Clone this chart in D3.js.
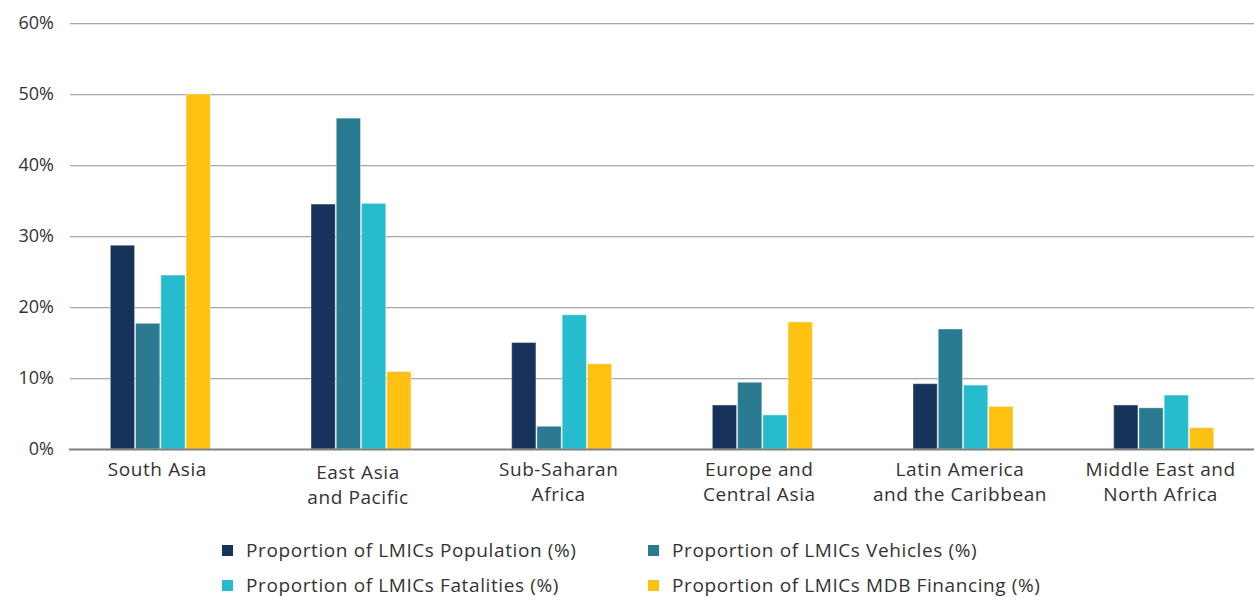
<!DOCTYPE html>
<html>
<head>
<meta charset="utf-8">
<script src="https://cdn.jsdelivr.net/npm/d3@7"></script>
<style>
  html, body { margin: 0; padding: 0; background: #fff; }
  svg text { font-family: "Open Sans", "Noto Sans", sans-serif; fill: #333; }
</style>
</head>
<body>
<svg id="chart" width="1254" height="597"></svg>
<script>
const regions = [
  ["South Asia"],
  ["East Asia", "and Pacific"],
  ["Sub-Saharan", "Africa"],
  ["Europe and", "Central Asia"],
  ["Latin America", "and the Caribbean"],
  ["Middle East and", "North Africa"]
];
const seriesNames = [
  "Proportion of LMICs Population (%)",
  "Proportion of LMICs Vehicles (%)",
  "Proportion of LMICs Fatalities (%)",
  "Proportion of LMICs MDB Financing (%)"
];
const population = [28.7, 34.5, 15.0, 6.2, 9.2, 6.2];
const vehicles   = [17.7, 46.6, 3.2, 9.4, 16.9, 5.8];
const fatalities = [24.5, 34.6, 18.9, 4.8, 9.0, 7.6];
const financing  = [50.0, 10.9, 12.0, 17.9, 6.0, 3.0];
const yTicks = [0, 10, 20, 30, 40, 50, 60];
const colors = ["#17335c", "#2a7a91", "#26bbcd", "#fcc111"];

const series = [population, vehicles, fatalities, financing];
const svg = d3.select("#chart");
const FONT = '"Open Sans", "Noto Sans", sans-serif';

const y = d3.scaleLinear().domain([0, 60]).range([449, 23]);
const x0 = d3.scaleBand().domain(d3.range(regions.length)).range([60, 1264]).padding(0);
const groupW = 101;
const x1 = d3.scaleBand().domain(d3.range(series.length))
  .range([x0.bandwidth() / 2 - groupW / 2, x0.bandwidth() / 2 + groupW / 2]).padding(0);

// gridlines
const grid = svg.append("g");
grid.selectAll("line.g").data(yTicks.filter(d => d > 0)).join("line")
  .attr("x1", 70).attr("x2", 1254)
  .attr("y1", d => Math.round(y(d)) + 0.5).attr("y2", d => Math.round(y(d)) + 0.5)
  .attr("stroke", "#a8a8a8").attr("stroke-width", 1);
grid.selectAll("line.g2").data(yTicks.filter(d => d > 0)).join("line")
  .attr("x1", 70).attr("x2", 1254)
  .attr("y1", d => Math.round(y(d)) + 1.5).attr("y2", d => Math.round(y(d)) + 1.5)
  .attr("stroke", "#e6e6e6").attr("stroke-width", 1);

// y labels
const yAxis = d3.axisLeft(y).tickValues(yTicks).tickFormat(d => d + "%").tickSize(0).tickPadding(0);
const ya = svg.append("g").attr("transform", "translate(54,0)").call(yAxis);
ya.select(".domain").remove();
ya.selectAll("text").attr("font-size", 18).attr("fill", "#333").style("font-family", FONT);

// bars
const groups = svg.append("g").selectAll("g").data(regions).join("g")
  .attr("transform", (d, i) => `translate(${x0(i)},0)`);
groups.selectAll("rect").data((d, i) => series.map((s, k) => ({ k, v: s[i] }))).join("rect")
  .attr("x", d => x1(d.k) + 0.5)
  .attr("width", x1.bandwidth() - 1)
  .attr("y", d => y(d.v))
  .attr("height", d => y(0) - y(d.v))
  .attr("fill", d => colors[d.k])
  .attr("stroke", "#ffffff").attr("stroke-opacity", 0.4).attr("stroke-width", 1);

// baseline
svg.append("line").attr("x1", 69).attr("x2", 1254)
  .attr("y1", y(0) + 0.5).attr("y2", y(0) + 0.5)
  .attr("stroke", "#7f7f7f").attr("stroke-width", 2);

// x labels
const xl = svg.append("g");
regions.forEach((lines, i) => {
  const cx = x0(i) + x0.bandwidth() / 2 - 3;
  const dy = i === 1 ? 3 : 0;
  const t = xl.append("text").attr("text-anchor", "middle").attr("font-size", 19)
    .attr("letter-spacing", 0.6);
  lines.forEach((ln, j) => {
    t.append("tspan").attr("x", cx).attr("y", 476 + dy + j * 25).text(ln);
  });
});

// legend
const legendPos = [[222, 545], [648, 545], [222, 580], [648, 580]];
const lg = svg.append("g");
seriesNames.forEach((name, k) => {
  const [lx, ly] = legendPos[k];
  lg.append("rect").attr("x", lx).attr("y", ly).attr("width", 11).attr("height", 11).attr("fill", colors[k]);
  lg.append("text").attr("x", lx + 24).attr("y", ly + 12).attr("font-size", 19)
    .attr("letter-spacing", 0.6).text(name);
});
</script>
</body>
</html>
